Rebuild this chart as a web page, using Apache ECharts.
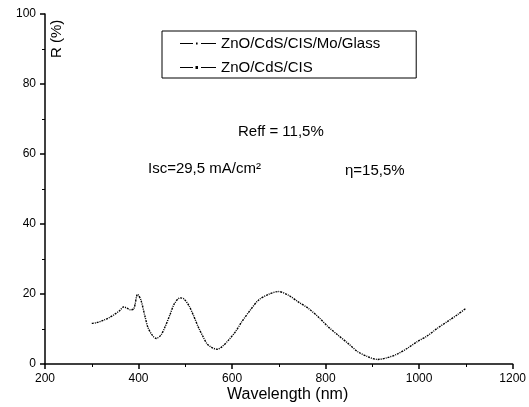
<!DOCTYPE html>
<html>
<head>
<meta charset="utf-8">
<script src="https://cdn.jsdelivr.net/npm/echarts@6/dist/echarts.min.js"></script>
<style>
  html, body { margin: 0; padding: 0; background: #fff; }
  #chart { width: 529px; height: 407px; }
</style>
</head>
<body>
<div id="chart"></div>
<script>
// 数据
var wavelength = [300, 310, 325, 338, 350, 360, 368, 375, 382, 390, 398, 405, 414, 420, 429, 438, 448, 457, 467, 477,
    489, 497, 508, 518, 529, 538, 547, 557, 568, 579, 593, 607, 621, 639, 657, 678, 699, 720, 741, 763,
    784, 805, 826, 848, 869, 890, 911, 932, 954, 975, 996, 1017, 1039, 1060, 1081, 1100];
var reflGlass = [11.6, 11.8, 12.5, 13.3, 14.3, 15.3, 16.3, 16.0, 15.5, 15.8, 19.9, 18.3, 13.5, 10.5, 8.3, 7.3, 8.3, 10.7, 14.0, 17.3,
    18.9, 18.6, 16.6, 13.7, 10.2, 7.8, 5.7, 4.7, 4.2, 5.0, 6.9, 9.2, 12.1, 15.4, 18.3, 19.9, 20.7, 19.7, 17.8, 15.9,
    13.5, 10.7, 8.3, 5.9, 3.5, 2.1, 1.3, 1.8, 2.9, 4.5, 6.4, 8.0, 10.2, 12.1, 14.0, 15.9];
var reflCIS = [11.6, 11.8, 12.5, 13.3, 14.3, 15.3, 16.3, 16.0, 15.5, 15.8, 19.9, 18.3, 13.5, 10.5, 8.3, 7.3, 8.3, 10.7, 14.0, 17.3,
    18.9, 18.6, 16.6, 13.7, 10.2, 7.8, 5.7, 4.7, 4.2, 5.0, 6.9, 9.2, 12.1, 15.4, 18.3, 19.9, 20.7, 19.7, 17.8, 15.9,
    13.5, 10.7, 8.3, 5.9, 3.5, 2.1, 1.3, 1.8, 2.9, 4.5, 6.4, 8.0, 10.2, 12.1, 14.0, 15.9];
var seriesNames = ['ZnO/CdS/CIS/Mo/Glass', 'ZnO/CdS/CIS'];
var notes = ['Reff = 11,5%', 'Isc=29,5 mA/cm²', 'η=15,5%'];

function pairs(xs, ys) {
    var out = [];
    for (var i = 0; i < xs.length; i++) out.push([xs[i], ys[i]]);
    return out;
}

var font = 'Liberation Sans, Arial, sans-serif';
// 图例图标 —·—
var iconGlass = 'path://M0,2h13v1h-13z M16,1.6h1.6v1.8h-1.6z M21,2h15v1h-15z';
var iconCIS = 'path://M0,2h13v1h-13z M15.5,1h2.5v3h-2.5z M21,2h15v1h-15z';

function axisOf(min, max, interval) {
    return {
        type: 'value', min: min, max: max, interval: interval,
        axisLine: { lineStyle: { color: '#000', width: 1.5 } },
        axisTick: { inside: false, length: 5, lineStyle: { color: '#000', width: 1.5 } },
        minorTick: { show: true, splitNumber: 2, length: 3, lineStyle: { color: '#000', width: 1 } },
        splitLine: { show: false },
        axisLabel: {
            color: '#000', fontFamily: font, fontSize: 12, margin: 9,
            formatter: function (v) { return String(v); }
        }
    };
}

var option = {
    animation: false,
    backgroundColor: '#fff',
    grid: { left: 45, right: 13, top: 14, bottom: 43 },
    legend: {
        orient: 'vertical',
        left: 162,
        top: 31,
        padding: [5, 36, 3, 18],
        itemGap: 9,
        itemWidth: 36,
        itemHeight: 5,
        borderColor: '#000',
        borderWidth: 1,
        lineStyle: { opacity: 0, width: 0 },
        textStyle: { color: '#000', fontFamily: font, fontSize: 15 },
        data: [
            { name: seriesNames[0], icon: iconGlass, itemStyle: { color: '#000' } },
            { name: seriesNames[1], icon: iconCIS, itemStyle: { color: '#000' } }
        ]
    },
    xAxis: axisOf(200, 1200, 200),
    yAxis: axisOf(0, 100, 20),
    graphic: [
        { type: 'text', left: 227, top: 387, style: { text: 'Wavelength (nm)', font: '16px ' + font, fill: '#000' } },
        { type: 'text', x: 49, y: 58, rotation: Math.PI / 2, style: { text: 'R (%)', font: '15px ' + font, fill: '#000' } },
        { type: 'text', left: 238, top: 124, style: { text: notes[0], font: '15px ' + font, fill: '#000' } },
        { type: 'text', left: 148, top: 161, style: { text: notes[1], font: '15px ' + font, fill: '#000' } },
        { type: 'text', left: 345, top: 163, style: { text: notes[2], font: '15px ' + font, fill: '#000' } }
    ],
    series: [
        {
            name: seriesNames[0], type: 'line', data: pairs(wavelength, reflGlass),
            showSymbol: false, smooth: 0.3,
            lineStyle: { color: '#000', width: 1.4, type: [2, 3] },
            itemStyle: { color: '#000' }
        },
        {
            name: seriesNames[1], type: 'line', data: pairs(wavelength, reflCIS),
            showSymbol: false, smooth: 0.3,
            lineStyle: { color: '#000', width: 1.4, type: [1, 4], dashOffset: 2 },
            itemStyle: { color: '#000' }
        }
    ]
};

var chart = echarts.init(document.getElementById('chart'));
chart.setOption(option);
</script>
</body>
</html>
